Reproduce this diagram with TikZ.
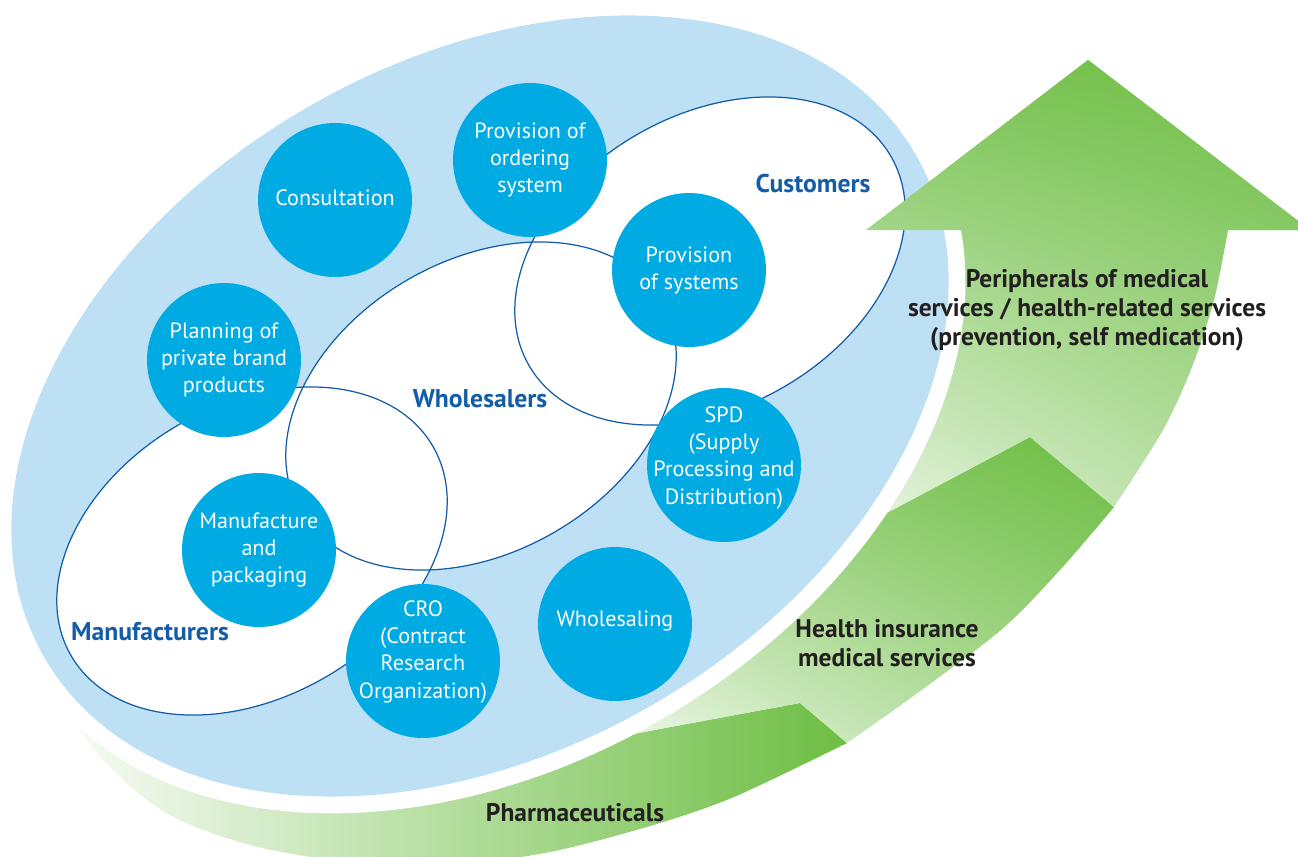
\documentclass[tikz,border=0pt]{standalone}
\usepackage{fontspec}
\setmainfont{PT Sans}
\usetikzlibrary{shadings}

\definecolor{skyfill}{RGB}{189,224,245}
\definecolor{dotfill}{RGB}{0,170,226}
\definecolor{rimblue}{RGB}{18,92,168}
\definecolor{leafgreen}{RGB}{110,190,68}
\definecolor{inkdark}{RGB}{35,31,32}

% top step of the green arrow, head included
\newcommand{\bandtoppath}{(830,543) -- (898,507) -- (1030,437) -- (1114,507)
  -- plot[smooth] coordinates {(1114,507) (1163,430) (1192,367) (1214,300) (1228,230)}
  -- (1310,230) -- (1088,60) -- (866,230) -- (900,260) -- (900,420) -- cycle}

\begin{document}
\begin{tikzpicture}[x=0.02cm, y=-0.02cm,
  svc/.style={circle, fill=dotfill, minimum size=3.08cm, inner sep=0pt},
  svctext/.style={text=white, align=center, font=\fontsize{12.6pt}{15.4pt}\selectfont},
  group/.style={text=rimblue, font=\bfseries\fontsize{14.6pt}{17pt}\selectfont},
  flow/.style={text=inkdark, align=center, font=\bfseries\fontsize{14.5pt}{16.5pt}\selectfont},
  bandlow/.style={left color=leafgreen!2!white, right color=leafgreen},
  bandmid/.style={lower left=leafgreen!3!white, lower right=leafgreen!65!white,
    upper left=leafgreen!75!white, upper right=leafgreen},
  bandtop/.style={lower left=leafgreen!9!white, lower right=leafgreen!54!white,
    upper left=leafgreen!90!white, upper right=leafgreen}]

\useasboundingbox (0,0) rectangle (1298,856);
\clip (0,0) rectangle (1298,856);

% green arrow in three steps
\shade[bandlow]
  plot[smooth] coordinates {(40,640) (62,697) (100,757) (166,813) (250,845) (350,862)
    (456,864) (550,852) (650,826) (734,797) (847,743)}
  -- (800,703) -- (665,728) -- (560,748) -- (300,770) -- (60,600) -- cycle;
\shade[bandmid] (560,748) -- (665,728) -- (800,703) -- (847,743)
  -- plot[smooth] coordinates {(847,743) (912,697) (1001,630) (1060,570) (1114,507)}
  -- (1030,437) -- (898,507) -- (830,543) -- cycle;
\shade[bandtop] \bandtoppath;

% big sky ellipse with a white gap round it
\fill[white, rotate around={30:(480,406)}] (480,406) ellipse [x radius=520, y radius=362];
\fill[skyfill, rotate around={30:(480,406)}] (480,406) ellipse [x radius=503, y radius=345];

% manufacturers, wholesalers, customers
\foreach \cx/\cy in {252/551, 481/406, 710/261}
  \fill[white, rotate around={30:(\cx,\cy)}] (\cx,\cy) ellipse [x radius=209, y radius=146];
\foreach \cx/\cy in {252/551, 481/406, 710/261}
  \draw[rimblue, line width=0.7pt, rotate around={30:(\cx,\cy)}] (\cx,\cy) ellipse [x radius=209, y radius=146];

% arrow head sits on top
\begin{scope}
  \clip (866,230) -- (1088,60) -- (1310,230) -- cycle;
  \shade[bandtop] \bandtoppath;
\end{scope}

% services
\node[svc] (consult) at (335,200) {};
\node[svc] (ordering) at (530,160) {};
\node[svc] (systems) at (689,270) {};
\node[svc] (planning) at (224,360) {};
\node[svc] (spd) at (724,465) {};
\node[svc] (making) at (259,550) {};
\node[svc] (cro) at (423,661) {};
\node[svc] (wholesale) at (615,624) {};

\node[svctext] (consult-t) at ([yshift=0.05cm]consult.center) {Consultation};
\node[svctext] (ordering-t) at (ordering) {Provision of\\ordering\\system};
\node[svctext] (systems-t) at (systems) {Provision\\of systems};
\node[svctext] (planning-t) at (planning) {Planning of\\private brand\\products};
\node[svctext] (spd-t) at ([yshift=0.14cm]spd.center) {SPD\\(Supply\\Processing and\\Distribution)};
\node[svctext] (making-t) at (making) {Manufacture\\and\\packaging};
\node[svctext] (cro-t) at ([yshift=0.18cm]cro.center) {CRO\\(Contract\\Research\\Organization)};
\node[svctext] (wholesale-t) at ([yshift=0.06cm]wholesale.center) {Wholesaling};

\node[group] (customers) at (813,184) {Customers};
\node[group] (wholesalers) at (480,399) {Wholesalers};
\node[group] (manufacturers) at (150,632) {Manufacturers};

\node[flow] (periph) at (1087,310) {Peripherals of medical\\services / health-related services\\(prevention, self medication)};
\node[flow] (insured) at (887,643) {Health insurance\\medical services};
\node[flow] (pharma) at (575,813) {Pharmaceuticals};
\end{tikzpicture}
\end{document}
